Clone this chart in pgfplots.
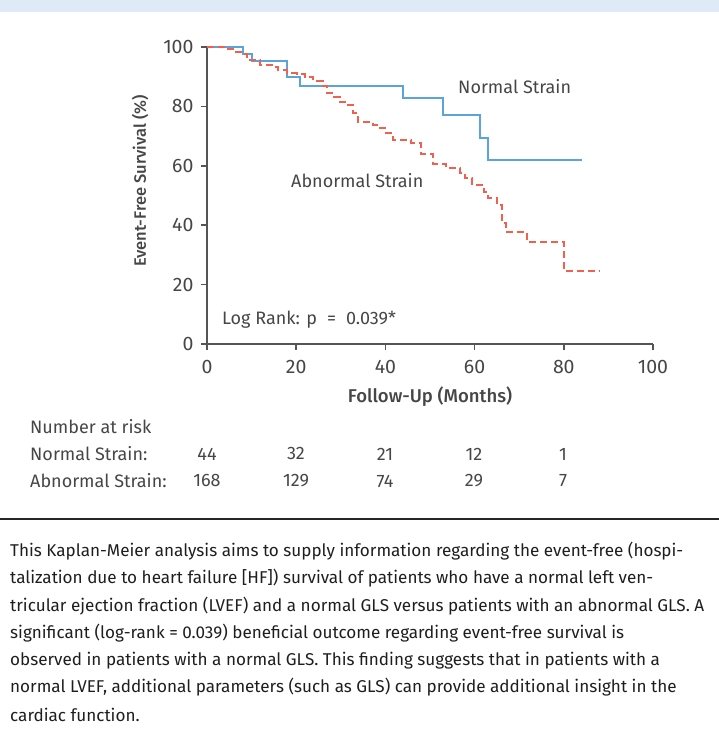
\documentclass[border=0pt]{standalone}
\usepackage{fontspec}
\setmainfont{Fira Sans}
\newfontfamily\medfont{Fira Sans Medium}
\usepackage{pgfplots}
\pgfplotsset{compat=1.18}
\definecolor{kmblue}{RGB}{91,164,219}
\definecolor{kmred}{RGB}{240,96,79}
\definecolor{axgray}{RGB}{85,85,85}
\definecolor{txtgray}{RGB}{70,70,70}
\definecolor{stripblue}{RGB}{222,234,246}
\definecolor{captxt}{RGB}{30,30,30}
\newcommand{\fs}[1]{\fontsize{#1bp}{#1bp}\selectfont}
\begin{document}
\begin{tikzpicture}[x=1bp,y=1bp]
\path[use as bounding box] (0,0) rectangle (719,741);
\fill[stripblue] (0,729) rectangle (719,741);
\begin{axis}[
  at={(207bp,397bp)}, anchor=south west,
  scale only axis, width=446bp, height=297bp,
  xmin=0, xmax=100, ymin=0, ymax=100,
  axis x line=bottom, axis y line=left,
  axis line style={axgray, line width=1.5bp, -},
  tick style={axgray, line width=1.5bp},
  tick align=outside, major tick length=6bp,
  xtick={0,20,...,100}, ytick={0,20,...,100},
  xticklabel style={font=\fs{19.5}, text=txtgray, yshift=-7bp},
  yticklabel style={font=\fs{19.5}, text=txtgray, xshift=-4bp},
  /pgf/number format/assume math mode=true,
  clip=false,
]
\addplot[kmblue, line width=2bp, const plot] coordinates {
(0,100) (8.1,97.7) (10.0,95.4) (17.9,90.0) (20.9,87.0) (44.0,82.7)
(53.0,77.2) (61.2,69.3) (63.1,62.0) (84.1,62.0)};
\addplot[kmred, line width=2bp, const plot, dash pattern=on 7bp off 4bp] coordinates {
(0,100) (3.7,99.2) (5.9,98.2) (7.8,97.5) (8.9,95.6) (11.9,93.9) (14.5,93.4)
(16.0,92.3) (17.9,91.4) (20.1,90.9) (22.0,90.0) (23.8,88.7) (25.9,86.9)
(26.8,84.4) (28.0,83.3) (29.8,81.6) (31.3,80.5) (32.8,77.7) (33.9,74.9)
(37.3,73.7) (38.7,72.6) (40.2,71.1) (41.7,68.7) (45.8,67.8) (48.0,63.9)
(50.6,60.6) (53.6,59.2) (56.8,57.5) (57.9,55.8) (59.5,53.5) (62.0,51.3)
(63.1,49.1) (65.0,46.8) (66.1,40.6) (67.0,37.8) (71.8,34.4) (80.0,24.7)
(88.1,24.7)};
\end{axis}
% labels
\node[rotate=90, font=\medfont\fs{16.5}, text=txtgray] at (140,741-181) {Event-Free Survival (\%)};
\node[font=\medfont\fs{18.5}, text=txtgray] at (430,741-397) {Follow-Up (Months)};
\node[anchor=west, font=\fs{18}, text=txtgray, inner sep=0pt] at (458,741-87) {Normal Strain};
\node[anchor=west, font=\fs{18}, text=txtgray, inner sep=0pt] at (291,741-181) {Abnormal Strain};
\node[anchor=west, font=\fs{18}, text=txtgray, inner sep=0pt] at (222,741-320) {Log Rank: p\hspace{10bp}=\hspace{10bp}0.039*};
% risk table
\node[anchor=west, font=\fs{18}, text=txtgray, inner sep=0pt] at (30,741-427) {Number at risk};
\node[anchor=west, font=\fs{18}, text=txtgray, inner sep=0pt] at (30,741-454) {Normal Strain:};
\node[anchor=west, font=\fs{18}, text=txtgray, inner sep=0pt] at (30,741-481) {Abnormal Strain:};
\foreach \x/\v in {207/44, 296/32, 385/21, 474/12, 563/1}
  \node[font=\fs{18}, text=txtgray] at (\x,741-454) {\v};
\foreach \x/\v in {207/168, 296/129, 385/74, 474/29, 563/7}
  \node[font=\fs{18}, text=txtgray] at (\x,741-481) {\v};
% divider
\draw[black!85, line width=2bp] (0,741-519.5) -- (719,741-519.5);
% caption
\foreach \i/\t in {0/{This Kaplan-Meier analysis aims to supply information regarding the event-free (hospi-},
  1/{talization due to heart failure [HF]) survival of patients who have a normal left ven-},
  2/{tricular ejection fraction (LVEF) and a normal GLS versus patients with an abnormal GLS. A},
  3/{significant (log-rank = 0.039) beneficial outcome regarding event-free survival is},
  4/{observed in patients with a normal GLS. This finding suggests that in patients with a},
  5/{normal LVEF, additional parameters (such as GLS) can provide additional insight in the},
  6/{cardiac function.}}
  \node[anchor=west, font=\fs{17.1}, text=captxt, inner sep=0pt] at (10,741-551-27.3*\i) {\t};
\end{tikzpicture}
\end{document}
